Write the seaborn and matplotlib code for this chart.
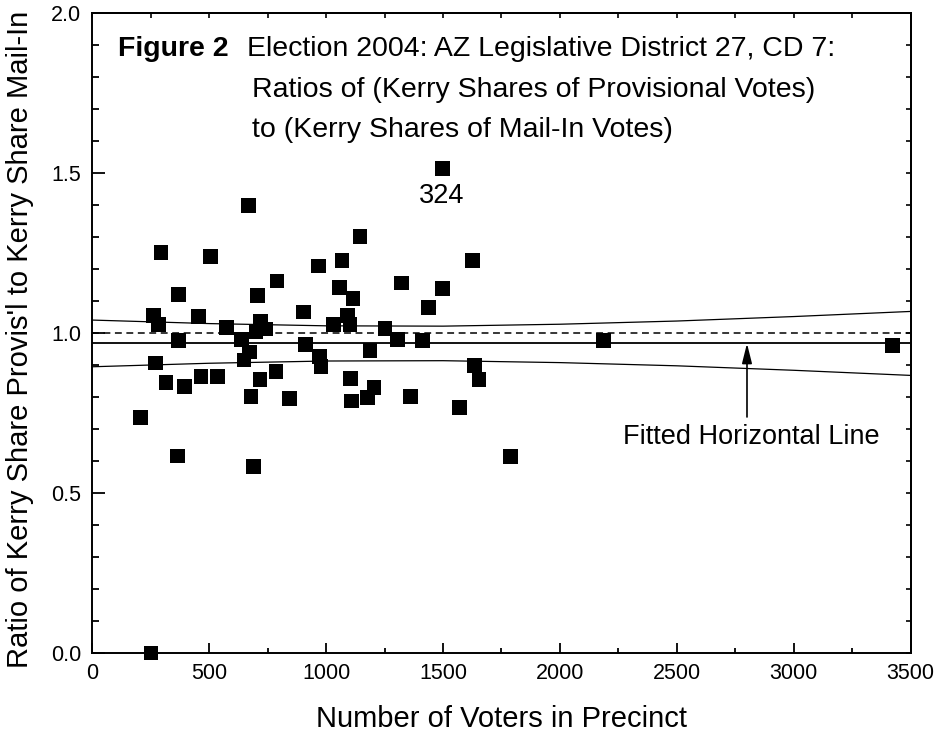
import numpy as np
import pandas as pd
import matplotlib
matplotlib.use("Agg")
import matplotlib.pyplot as plt
import seaborn as sns
from matplotlib.ticker import MultipleLocator, FixedLocator, FixedFormatter

# ---- data ----
voters = [667, 294, 506, 1145, 967, 1068, 368, 790, 707, 1058, 1115, 904,
          261, 284, 453, 575, 719, 700, 742, 1030, 1092, 1102, 1252, 368,
          639, 672, 649, 911, 970, 978, 1188, 272, 315, 394, 465, 536,
          717, 786, 679, 843, 1105, 1109, 1176, 1205, 207,
          1496, 1625, 1322, 1499, 1437, 1305, 1413, 2187, 1634, 1654, 1360, 1570,
          364, 689, 1787, 251, 3422]
ratio = [1.398, 1.252, 1.241, 1.301, 1.210, 1.228, 1.122, 1.163, 1.117, 1.142, 1.108, 1.066,
         1.055, 1.028, 1.053, 1.018, 1.037, 1.005, 1.013, 1.026, 1.054, 1.028, 1.014, 0.978,
         0.979, 0.941, 0.916, 0.965, 0.928, 0.895, 0.945, 0.907, 0.845, 0.833, 0.864, 0.864,
         0.856, 0.879, 0.803, 0.795, 0.859, 0.788, 0.798, 0.831, 0.737,
         1.515, 1.227, 1.157, 1.141, 1.080, 0.981, 0.978, 0.976, 0.898, 0.855, 0.803, 0.767,
         0.616, 0.582, 0.614, 0.0, 0.9625]

band_x = [0, 500, 1000, 1500, 2000, 2500, 3000, 3500]
band_upper = [1.041, 1.030, 1.023, 1.022, 1.028, 1.038, 1.052, 1.068]
band_lower = [0.895, 0.906, 0.913, 0.914, 0.908, 0.898, 0.884, 0.868]

fitted_level = 0.968
reference_level = 1.0

x_ticks = [0, 500, 1000, 1500, 2000, 2500, 3000, 3500]
x_tick_labels = ["0", "500", "1000", "1500", "2000", "2500", "3000", "3500"]
y_ticks = [0.0, 0.5, 1.0, 1.5, 2.0]
y_tick_labels = ["0.0", "0.5", "1.0", "1.5", "2.0"]

title_bold = "Figure 2"
title_lines = ["Election 2004: AZ Legislative District 27, CD 7:",
               "Ratios of (Kerry Shares of Provisional Votes)",
               "to (Kerry Shares of Mail-In Votes)"]
outlier_label = "324"
outlier_x, outlier_y = 1496, 1.515
arrow_label = "Fitted Horizontal Line"
x_label = "Number of Voters in Precinct"
y_label = "Ratio of Kerry Share Provis'l to Kerry Share Mail-In"

# ---- style ----
sns.set_style("ticks")
plt.rcParams['font.family'] = ['Liberation Sans', 'DejaVu Sans']
plt.rcParams['axes.edgecolor'] = 'black'
plt.rcParams['axes.linewidth'] = 1.4
plt.rcParams['text.color'] = 'black'
plt.rcParams['axes.labelcolor'] = 'black'
plt.rcParams['xtick.color'] = 'black'
plt.rcParams['ytick.color'] = 'black'

fig = plt.figure(figsize=(9.37, 7.33), dpi=100)
ax = fig.add_axes([0.0985, 0.1091, 0.8734, 0.8727])

df = pd.DataFrame({'voters': voters, 'ratio': ratio})
band = pd.DataFrame({'x': band_x, 'upper': band_upper, 'lower': band_lower})

sns.lineplot(data=band, x='x', y='upper', color='black', lw=0.9, ax=ax)
sns.lineplot(data=band, x='x', y='lower', color='black', lw=0.9, ax=ax)
ax.axhline(fitted_level, color='black', lw=1.3, zorder=2)
ax.axhline(reference_level, color='black', lw=1.1, ls=(0, (4.5, 3)), zorder=2)
sns.scatterplot(data=df, x='voters', y='ratio', marker='s', s=114, color='black',
                edgecolor='none', linewidth=0, ax=ax, zorder=3, legend=False,
                clip_on=False)

ax.set_xlim(x_ticks[0], x_ticks[-1])
ax.set_ylim(y_ticks[0], y_ticks[-1])
ax.xaxis.set_major_locator(FixedLocator(x_ticks))
ax.xaxis.set_major_formatter(FixedFormatter(x_tick_labels))
ax.yaxis.set_major_locator(FixedLocator(y_ticks))
ax.yaxis.set_major_formatter(FixedFormatter(y_tick_labels))
ax.xaxis.set_minor_locator(MultipleLocator(250))
ax.yaxis.set_minor_locator(MultipleLocator(0.1))
ax.tick_params(axis='both', which='both', direction='in', width=1.3, color='black',
               labelsize=15.5, labelcolor='black')
ax.tick_params(axis='x', which='major', length=7, pad=7)
ax.tick_params(axis='x', which='minor', length=3.5)
ax.tick_params(axis='y', which='major', length=9, pad=8)
ax.tick_params(axis='y', which='minor', length=5)

secx = ax.secondary_xaxis('top')
secx.xaxis.set_major_locator(MultipleLocator(250))
secx.tick_params(direction='in', length=3.5, width=1.2, labeltop=False, color='black')
secy = ax.secondary_yaxis('right')
secy.yaxis.set_major_locator(MultipleLocator(0.1))
secy.tick_params(direction='in', length=3.5, width=1.2, labelright=False, color='black')

ax.set_xlabel(x_label, fontsize=21, color='black')
ax.set_ylabel(y_label, fontsize=21, color='black')
ax.xaxis.set_label_coords(0.5, -0.082)
ax.yaxis.set_label_coords(-0.071, 0.49)

fs_title = 20.5
ax.text(110, 1.866, title_bold, fontsize=fs_title, fontweight='bold', va='baseline')
ax.text(660, 1.866, title_lines[0], fontsize=fs_title, va='baseline')
ax.text(683, 1.7375, title_lines[1], fontsize=fs_title, va='baseline')
ax.text(683, 1.6125, title_lines[2], fontsize=fs_title, va='baseline')

fs_note = 19.5
ax.text(outlier_x, 1.429, outlier_label, fontsize=fs_note, ha='center', va='center')

ax.annotate("", xy=(2800, fitted_level), xytext=(2800, 0.738),
            arrowprops=dict(arrowstyle='-|>,head_length=1.0,head_width=0.25',
                            color='black', lw=1.2, mutation_scale=12,
                            shrinkA=0, shrinkB=0))
ax.text(2820, 0.676, arrow_label, fontsize=fs_note, ha='center', va='center')

fig.savefig("out.png", dpi=100)
